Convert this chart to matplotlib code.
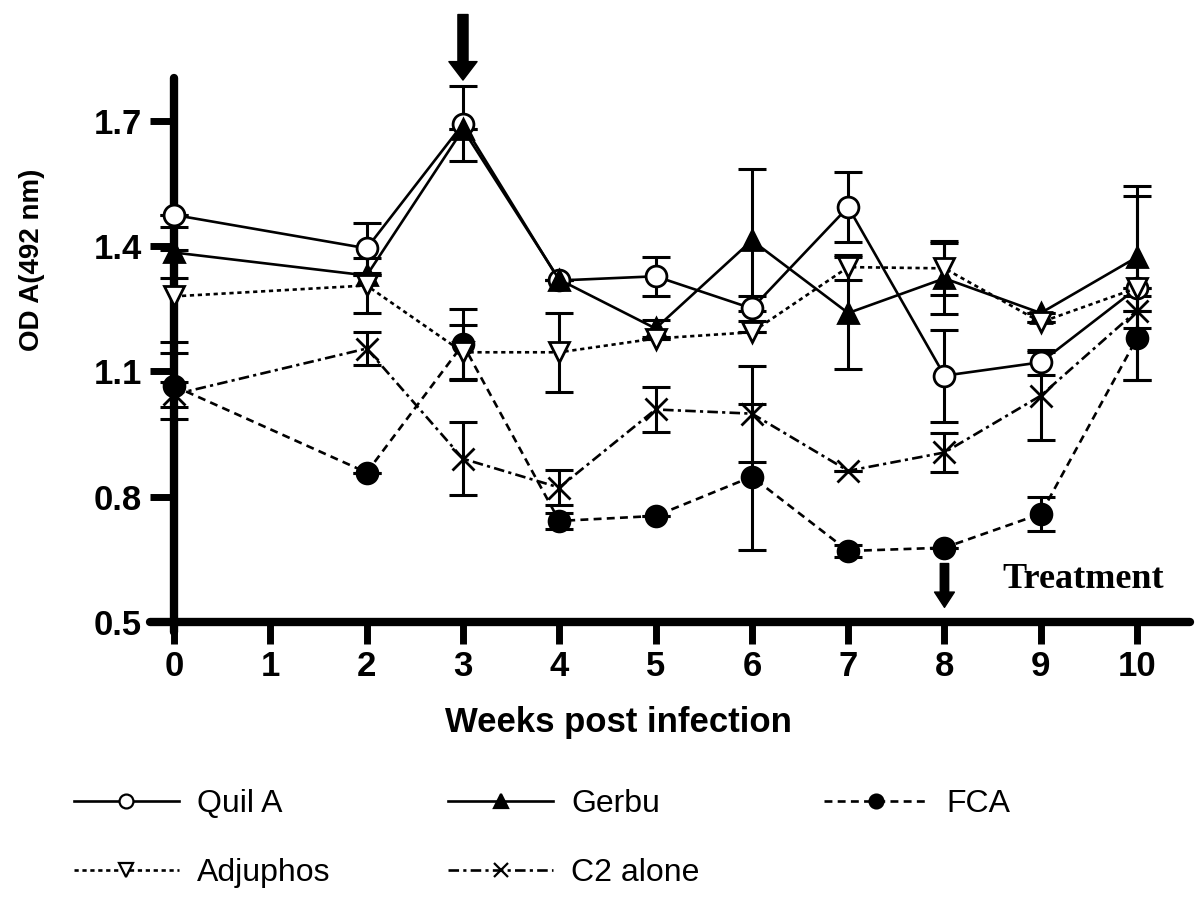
"""
ELISA OD over weeks post infection for the five adjuvant groups.
Saves out.png (1200x910).
"""

import matplotlib
matplotlib.use("Agg")
import matplotlib.pyplot as plt
from matplotlib.lines import Line2D

weeks = [0, 2, 3, 4, 5, 6, 7, 8, 9, 10]

quil_a = [1.475, 1.395, 1.693, 1.318, 1.328, 1.251, 1.494, 1.090, 1.122, 1.300]
quil_a_err = [0.0, 0.06, 0.09, 0.0, 0.047, 0.03, 0.085, 0.11, 0.03, 0.22]

gerbu = [1.385, 1.330, 1.680, 1.320, 1.203, 1.414, 1.240, 1.323, 1.240, 1.374]
gerbu_err = [0.06, 0.0, 0.0, 0.0, 0.02, 0.17, 0.135, 0.085, 0.0, 0.17]

fca = [1.065, 0.858, 1.165, 0.742, 0.754, 0.848, 0.670, 0.678, 0.759, 1.180]
fca_err = [0.08, 0.0, 0.085, 0.02, 0.0, 0.175, 0.015, 0.0, 0.04, 0.10]

adjuphos = [1.280, 1.306, 1.146, 1.146, 1.179, 1.194, 1.350, 1.347, 1.218, 1.300]
adjuphos_err = [0.11, 0.067, 0.065, 0.095, 0.0, 0.0, 0.03, 0.065, 0.0, 0.0]

c2_alone = [1.045, 1.155, 0.891, 0.822, 1.009, 0.999, 0.862, 0.906, 1.042, 1.246]
c2_alone_err = [0.03, 0.04, 0.088, 0.042, 0.053, 0.115, 0.0, 0.046, 0.105, 0.0]

x_ticks = list(range(0, 11))
y_ticks = [0.5, 0.8, 1.1, 1.4, 1.7]

SANS = ["Liberation Sans", "DejaVu Sans"]

# label, y, err, marker, facecolor, linestyle
series = [
    ("Quil A", quil_a, quil_a_err, "o", "white", "-"),
    ("Gerbu", gerbu, gerbu_err, "^", "black", "-"),
    ("FCA", fca, fca_err, "o", "black", (0, (3, 2))),
    ("Adjuphos", adjuphos, adjuphos_err, "v", "white", (0, (1.6, 1.4))),
    ("C2 alone", c2_alone, c2_alone_err, "x", "black", (0, (4, 1.6, 1.2, 1.6))),
]

fig = plt.figure(figsize=(12, 9.1), dpi=100)
ax = fig.add_axes([0.125, 0.3055, 0.8667, 0.6088])

handles = {}
for label, y, err, marker, fc, ls in series:
    ax.errorbar(weeks, y, yerr=err, fmt="none", ecolor="black",
                elinewidth=2.2, capsize=10, capthick=2.2, zorder=2)
    size = 16 if marker == "x" else 15
    if marker == "^" or marker == "v":
        size = 14
    ax.plot(weeks, y, color="black", linestyle=ls, linewidth=1.9,
            marker=marker, markersize=size, markerfacecolor=fc,
            markeredgecolor="black", markeredgewidth=2.0, zorder=3)
    handles[label] = Line2D([], [], color="black", linestyle=ls, linewidth=1.9,
                            marker=marker, markersize=10, markerfacecolor=fc,
                            markeredgecolor="black", markeredgewidth=1.6)

ax.set_xlim(-0.25, 10.55)
ax.set_ylim(0.476, 1.803)

for side in ["top", "right"]:
    ax.spines[side].set_visible(False)
ax.spines["left"].set_position(("data", 0))
ax.spines["bottom"].set_position(("data", 0.5))
ax.spines["left"].set_linewidth(6)
ax.spines["bottom"].set_linewidth(6)
ax.spines["left"].set_capstyle("round")
ax.spines["bottom"].set_capstyle("round")

ax.set_xticks(x_ticks)
ax.set_yticks(y_ticks)
ax.set_xticklabels([str(t) for t in x_ticks])
ax.set_yticklabels([f"{t:.1f}" for t in y_ticks])
ax.tick_params(axis="x", direction="out", length=16, width=5, pad=4)
ax.tick_params(axis="y", direction="out", length=17, width=5, pad=6)
for lbl in ax.get_xticklabels() + ax.get_yticklabels():
    lbl.set_fontfamily(SANS)
    lbl.set_fontweight("bold")
    lbl.set_fontsize(25)

fig.text(0.027, 0.714, "OD A(492 nm)", rotation=90, ha="center", va="center",
         fontsize=20, fontweight="bold", family=SANS)
fig.text(0.515, 0.206, "Weeks post infection", ha="center", va="center",
         fontsize=25, fontweight="bold", family=SANS)

# arrows
ax.annotate("", xy=(3, 1.798), xytext=(3, 1.955), annotation_clip=False,
            arrowprops=dict(arrowstyle="simple,head_length=0.95,head_width=1.45,tail_width=0.52",
                            mutation_scale=14, color="black", shrinkA=0, shrinkB=0))
ax.annotate("", xy=(8, 0.535), xytext=(8, 0.64), annotation_clip=False,
            arrowprops=dict(arrowstyle="simple,head_length=1.0,head_width=1.3,tail_width=0.55",
                            mutation_scale=11, color="black", shrinkA=0, shrinkB=0))
ax.text(8.6, 0.582, "Treatment", ha="left", va="baseline", fontsize=26,
        fontweight="bold", family=["Liberation Serif", "DejaVu Serif"])

# legend, one per column so they sit where the original has them
columns = [(["Quil A", "Adjuphos"], 0.048), (["Gerbu", "C2 alone"], 0.360), (["FCA"], 0.673)]
for names, x0 in columns:
    leg = fig.legend([handles[n] for n in names], names, loc="upper left",
                     bbox_to_anchor=(x0, 0.15), frameon=False, handlelength=3.3,
                     handletextpad=0.55, labelspacing=1.2, borderpad=0,
                     prop={"family": SANS, "size": 23})

fig.savefig("out.png", dpi=100)
